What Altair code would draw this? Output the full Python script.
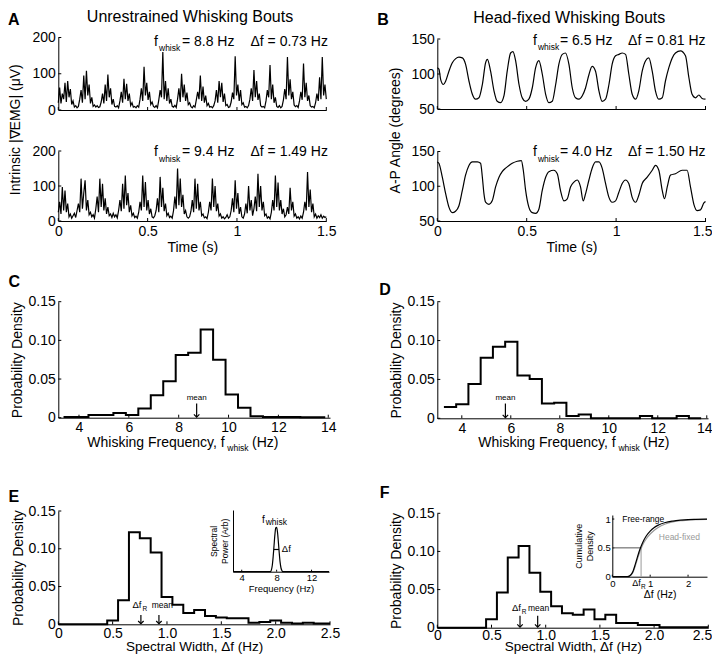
import altair as alt
import pandas as pd

FONT = "Liberation Sans"
W, H = 704, 646
OX, OY = 8, 8

# ---------------- data ----------------
DT_EMG = 0.0075  # sampling step of the EMG traces (s)
emg_top = [20,62,18,45,30,75,22,80,35,58,
           15,25,8,12,6,10,30,55,20,95,
           30,108,40,70,18,35,10,14,8,12,
           7,9,22,45,18,70,25,98,35,60,
           15,30,10,8,12,6,25,50,20,86,
           30,72,25,45,12,20,8,10,6,12,
           8,30,60,25,119,40,75,28,50,15,
           22,10,7,12,6,28,55,35,160,30,
           80,25,60,18,30,10,8,13,7,30,
           60,22,100,35,70,25,48,15,20,9,
           6,12,8,28,50,30,95,25,65,20,
           40,12,18,8,10,6,12,25,55,20,
           80,35,75,22,45,12,15,7,9,22,
           48,30,148,40,70,25,55,15,20,8,
           10,6,12,30,60,25,110,35,80,28,
           45,12,8,10,6,25,55,35,124,30,
           70,20,35,10,7,12,6,10,28,58,
           30,146,40,85,30,50,14,9,12,7,
           25,50,28,128,35,75,25,40,12,8,
           10,6,20,45,25,90,30,146,40,70,
           30]
emg_bottom = [25,55,20,97,30,87,25,50,12,20,
              8,15,22,10,30,50,25,121,35,80,
              116,30,60,18,25,12,18,8,35,70,
              25,121,40,106,30,65,20,40,15,20,
              10,22,12,18,9,30,60,28,106,35,
              130,45,80,25,45,15,22,10,14,8,
              25,55,30,130,40,111,30,60,20,35,
              12,9,15,30,65,25,126,40,95,28,
              50,15,22,10,14,8,30,70,35,150,
              45,121,40,75,20,30,12,8,12,28,
              60,25,121,35,106,30,55,15,20,9,
              12,7,25,55,30,121,40,100,28,50,
              14,20,8,12,6,10,18,8,12,30,
              65,25,116,35,80,20,40,12,8,20,
              50,22,100,30,60,15,35,70,28,135,
              40,100,30,55,15,20,8,12,6,25,
              60,30,130,40,110,30,60,20,35,12,
              18,40,20,95,30,55,14,20,8,12,
              6,14,8,25,55,30,140,40,90,25,
              50,12,20,8,15,10,18,8,14,10,
              12]

angle_top_t = [0,.009,.019,.034,.047,.065,.084,.103,.121,.140,
               .158,.177,.196,.214,.233,.252,.270,.280,.298,.317,
               .335,.354,.373,.391,.410,.423,.438,.457,.475,.494,
               .512,.531,.550,.568,.587,.606,.624,.643,.662,.680,
               .699,.717,.736,.755,.773,.792,.811,.829,.848,.866,
               .885,.904,.922,.941,.960,.978,.997,1.016,1.034,1.053,
               1.071,1.090,1.109,1.127,1.146,1.165,1.183,1.202,1.220,1.239,
               1.258,1.276,1.295,1.314,1.332,1.360,1.388,1.407,1.425,1.444,
               1.463,1.481,1.5]
angle_top = [109,107,92,85,90,104,116,122,124,123,
             114,90,71,64,66,85,116,121,104,76,
             61,59,69,104,130,132,119,85,66,61,
             64,80,109,119,100,71,59,61,85,114,
             128,130,114,80,66,64,69,80,99,111,
             104,76,61,64,85,114,126,128,130,128,
             100,71,64,76,104,119,123,104,76,64,
             66,90,109,123,130,133,126,95,71,66,
             70,65,64]
angle_bot_t = [0,.009,.028,.047,.065,.084,.102,.121,.140,.158,
               .177,.196,.224,.242,.252,.261,.270,.289,.307,.326,
               .345,.363,.382,.401,.419,.447,.470,.481,.494,.512,
               .531,.550,.568,.587,.606,.624,.652,.671,.689,.708,
               .727,.745,.764,.783,.801,.816,.829,.848,.866,.885,
               .904,.922,.941,.960,.978,.997,1.015,1.034,1.053,1.071,
               1.090,1.109,1.127,1.146,1.174,1.202,1.220,1.239,1.258,1.271,
               1.286,1.304,1.332,1.369,1.397,1.416,1.435,1.453,1.472,1.491,
               1.5]
angle_bot = [135,133,113,89,70,62,64,72,94,116,
             130,135,135,133,113,89,77,74,79,99,
             113,121,126,130,133,136,137,123,94,70,
             62,61,67,94,113,121,123,118,94,79,
             82,99,106,109,99,79,89,109,126,135,
             135,126,104,84,77,79,91,104,109,104,
             84,77,87,104,113,123,130,123,94,82,
             99,116,118,123,123,99,74,65,66,76,
             78]

C_edges = [3.38,3.88,4.38,4.88,5.38,5.88,6.38,6.88,7.38,7.88,8.38,8.88,9.38,9.88,
           10.38,10.88,11.38,11.88,12.38,12.88,13.38,13.88]
C_density = [0.001,0.001,0.0035,0.0035,0.006,0.0035,0.012,0.029,0.047,0.081,0.084,
             0.114,0.075,0.030,0.013,0.002,0.001,0.001,0.001,0.0005,0.0005]
D_edges = [3.27,3.77,4.27,4.77,5.27,5.77,6.27,6.77,7.27,7.77,8.27,8.77,9.27,9.77,
           10.27,10.77,11.27,11.77,12.27,12.77,13.27,13.77]
D_density = [0.0146,0.018,0.044,0.078,0.092,0.0986,0.055,0.0506,0.019,0.020,0.003,
             0.005,0.0,0.0,0.0,0.0,0.003,0.0,0.0,0.003,0.0]
E_edges = [0.0,0.45,0.55,0.65,0.75,0.85,0.95,1.05,1.15,1.25,1.35,1.45,1.55,1.65,
           1.75,1.85,1.95,2.05,2.15,2.25,2.35,2.45,2.5]
E_density = [0.0,0.005,0.032,0.122,0.114,0.095,0.036,0.026,0.015,0.019,0.011,0.009,
             0.008,0.008,0.002,0.003,0.005,0.002,0.001,0.002,0.001,0.001]
F_edges = [0.0,0.45,0.55,0.65,0.75,0.85,0.95,1.05,1.15,1.25,1.35,1.45,1.55,1.65,
           1.75,1.85,1.95,2.05,2.5]
F_density = [0.0,0.011,0.046,0.092,0.107,0.072,0.047,0.028,0.019,0.017,0.024,0.011,
             0.017,0.006,0.006,0.0035,0.0035,0.0005]

C_mean, D_mean = 8.72, 5.78
E_dfR, E_mean = 0.76, 0.926
F_dfR, F_mean = 0.763, 0.926

inset_freq = [3,7.3,7.4,7.5,7.6,7.7,7.8,7.9,8.0,8.1,8.2,8.3,8.4,8.5,8.6,8.7,14]
inset_power = [0,0,0.03,0.10,0.24,0.42,0.60,0.71,0.72,0.64,0.48,0.30,0.15,0.06,0.02,0,0]
inset_halfwidth = [7.67, 8.27]
inset_half = 0.36

cdf_x = [0,0.40,0.45,0.50,0.55,0.60,0.65,0.70,0.75,0.80,0.90,1.00,1.10,1.20,1.40,1.60,1.80,2.00,2.20,2.50]
cdf_free = [0,0,0.01,0.04,0.10,0.20,0.31,0.42,0.51,0.59,0.71,0.79,0.85,0.89,0.94,0.965,0.98,0.99,0.995,1.0]
cdf_head = [0,0,0.005,0.03,0.08,0.17,0.28,0.38,0.47,0.55,0.66,0.74,0.80,0.85,0.915,0.95,0.97,0.98,0.99,0.995]

# ---------------- layout (page pixels) ----------------
PANELS = {
    "A1": dict(xd=[0, 1.5], xr=[58.3, 326.3], yd=[0, 200], yr=[110, 37.5]),
    "A2": dict(xd=[0, 1.5], xr=[58.3, 326.3], yd=[0, 200], yr=[221, 151]),
    "B1": dict(xd=[0, 1.5], xr=[437.3, 705.5], yd=[50, 150], yr=[109, 39]),
    "B2": dict(xd=[0, 1.5], xr=[437.3, 705.5], yd=[50, 150], yr=[221, 151.5]),
    "C": dict(xd=[3.17, 14.07], xr=[58.3, 330], yd=[0, 0.15], yr=[417.7, 301.7]),
    "D": dict(xd=[3.0, 14.05], xr=[437.3, 708], yd=[0, 0.15], yr=[418.3, 301.7]),
    "E": dict(xd=[0, 2.5], xr=[58.3, 330], yd=[0, 0.15], yr=[624.3, 511]),
    "F": dict(xd=[0, 2.5], xr=[437.3, 708.3], yd=[0, 0.15], yr=[627.7, 513.3]),
    "Ei": dict(xd=[3, 14], xr=[233, 329], yd=[0, 1], yr=[571.7, 510]),
    "Fi": dict(xd=[0, 2.5], xr=[612.3, 707], yd=[0, 1.07], yr=[576.7, 515]),
}


def sx(p):
    P = PANELS[p]
    return alt.Scale(domain=P["xd"], range=[P["xr"][0] - OX, P["xr"][1] - OX], nice=False, zero=False)


def sy(p):
    P = PANELS[p]
    return alt.Scale(domain=P["yd"], range=[P["yr"][0] - OY, P["yr"][1] - OY], nice=False, zero=False)


BASE_AX = dict(grid=False, ticks=False, domainColor="black", domainWidth=1, labelColor="black",
               titleColor="black", labelFont=FONT, titleFont=FONT, titleFontWeight="normal",
               labelFlush=False, labelOverlap=False)


def xaxis(p, size=14, **kw):
    P = PANELS[p]
    d = dict(BASE_AX)
    d.update(orient="bottom", offset=P["yr"][0] - OY - H, labelFontSize=size, titleFontSize=size,
             labelPadding=3, title=None)
    d.update(kw)
    return alt.Axis(**d)


def yaxis(p, size=14, **kw):
    P = PANELS[p]
    d = dict(BASE_AX)
    d.update(orient="left", offset=-(P["xr"][0] - OX), labelFontSize=size, titleFontSize=size,
             labelPadding=3, title=None)
    d.update(kw)
    return alt.Axis(**d)


def enc(p, xa=None, ya=None, xf="x", yf="y"):
    return dict(x=alt.X(f"{xf}:Q", scale=sx(p), axis=xa), y=alt.Y(f"{yf}:Q", scale=sy(p), axis=ya))


def line(p, xs, ys, xa=None, ya=None, color="black", width=1.0, interp="linear"):
    df = pd.DataFrame({"x": xs, "y": ys})
    return alt.Chart(df).mark_line(color=color, strokeWidth=width, interpolate=interp).encode(**enc(p, xa, ya))


def steps(p, edges, dens, xa=None, ya=None):
    return line(p, list(edges), list(dens) + [dens[-1]], xa, ya, width=2.0, interp="step-after")


def text(p, x, y, s, size=14, align="center", color="black", weight="normal", baseline="middle"):
    df = pd.DataFrame({"x": [x], "y": [y], "t": [s]})
    return alt.Chart(df).mark_text(align=align, baseline=baseline, fontSize=size, color=color,
                                   fontWeight=weight, font=FONT).encode(text="t:N", **enc(p))


def rule(p, x, y, x2, y2, color="black", width=1.0):
    df = pd.DataFrame({"x": [x], "y": [y], "x2": [x2], "y2": [y2]})
    return alt.Chart(df).mark_rule(color=color, strokeWidth=width).encode(x2="x2:Q", y2="y2:Q", **enc(p))


def arrow(p, x, ytop, ytip):
    df = pd.DataFrame({"x": [x], "y": [ytip]})
    head = alt.Chart(df).mark_point(shape="M-1,-1L0,0L1,-1", filled=False, size=30, color="black",
                                    strokeWidth=1.2, opacity=1).encode(**enc(p))
    return [rule(p, x, ytop, x, ytip, width=1.2), head]


def inward_ticks(p, xvals, yvals, length=3):
    P = PANELS[p]
    dy = length * (P["yd"][1] - P["yd"][0]) / (P["yr"][0] - P["yr"][1])
    dx = length * (P["xd"][1] - P["xd"][0]) / (P["xr"][1] - P["xr"][0])
    rows = [dict(x=v, x2=v, y=P["yd"][0], y2=P["yd"][0] + dy) for v in xvals]
    rows += [dict(x=P["xd"][0], x2=P["xd"][0] + dx, y=v, y2=v) for v in yvals]
    df = pd.DataFrame(rows)
    return alt.Chart(df).mark_rule(color="black", strokeWidth=1).encode(x2="x2:Q", y2="y2:Q", **enc(p))


def cond(value, yes, no):
    return {"condition": {"test": f"datum.value == {value}", "value": yes}, "value": no}


DENS_EXPR = "datum.value == 0 ? '0' : format(datum.value, '.2f')"
WIDTH_EXPR = "datum.value == 0 ? '0' : format(datum.value, '.1f')"
TIME_EXPR = "toString(datum.value)"

t_emg = [i * DT_EMG for i in range(len(emg_top))]
time_ticks = [0, 0.5, 1, 1.5]
freq_ticks = [4, 6, 8, 10, 12, 14]
dens_ticks = [0, 0.05, 0.10, 0.15]
width_ticks = [0, 0.5, 1.0, 1.5, 2.0, 2.5]

layers = []

# ---- Panel A ----
layers.append(inward_ticks("A1", time_ticks, [0, 100, 200]))
layers.append(line("A1", t_emg, emg_top,
                   xaxis("A1", labels=False),
                   yaxis("A1", values=[0, 100, 200], title="Intrinsic |∇EMG| (μV)",
                         titleY=121.25, titlePadding=9),
                   width=1.2))
layers.append(inward_ticks("A2", time_ticks, [0, 100, 200]))
layers.append(line("A2", t_emg, emg_bottom,
                   xaxis("A2", values=time_ticks, labelExpr=TIME_EXPR, title="Time (s)", titlePadding=2),
                   yaxis("A2", values=[0, 100, 200]),
                   width=1.2))
layers += [
    text("A1", 0.737, 255.2, "Unrestrained Whisking Bouts", 16),
    text("A1", -0.2815, 248.3, "A", 16, align="left", weight="bold"),
    text("A1", 0.547, 188.4, "f"),
    text("A1", 0.5636, 169.7, "whisk", 8.5, align="left"),
    text("A1", 0.692, 188.4, "= 8.8 Hz", align="left"),
    text("A1", 1.509, 188.4, "Δf = 0.73 Hz", align="right"),
    text("A2", 0.547, 196.3, "f"),
    text("A2", 0.5636, 177, "whisk", 8.5, align="left"),
    text("A2", 0.692, 196.3, "= 9.4 Hz", align="left"),
    text("A2", 1.509, 196.3, "Δf = 1.49 Hz", align="right"),
]

# ---- Panel B ----
layers.append(inward_ticks("B1", time_ticks, [50, 100, 150]))
layers.append(line("B1", angle_top_t, angle_top,
                   xaxis("B1", labels=False),
                   yaxis("B1", values=[50, 100, 150], title="A-P Angle (degrees)",
                         titleY=122, titlePadding=8),
                   width=1.2, interp="monotone"))
layers.append(inward_ticks("B2", time_ticks, [50, 100, 150]))
layers.append(line("B2", angle_bot_t, angle_bot,
                   xaxis("B2", values=time_ticks, labelExpr=TIME_EXPR, title="Time (s)", titlePadding=2,
                         labelAlign=cond(1.5, "right", "center"), labelOffset=cond(1.5, 6.5, 0)),
                   yaxis("B2", values=[50, 100, 150]),
                   width=1.2, interp="monotone"))
layers += [
    text("B1", 0.738, 180.7, "Head-fixed Whisking Bouts", 16),
    text("B1", -0.3037, 177.1, "B", 16, weight="bold"),
    text("B1", 0.546, 147.1, "f"),
    text("B1", 0.563, 137.9, "whisk", 8.5, align="left"),
    text("B1", 0.686, 147.1, "= 6.5 Hz", align="left"),
    text("B1", 1.5, 147.1, "Δf = 0.81 Hz", align="right"),
    text("B2", 0.546, 148.8, "f"),
    text("B2", 0.563, 139.2, "whisk", 8.5, align="left"),
    text("B2", 0.686, 148.8, "= 4.0 Hz", align="left"),
    text("B2", 1.5, 148.8, "Δf = 1.50 Hz", align="right"),
]

# ---- Panel C ----
layers.append(inward_ticks("C", freq_ticks, dens_ticks))
layers.append(steps("C", C_edges, C_density,
                    xaxis("C", values=freq_ticks),
                    yaxis("C", values=dens_ticks, labelExpr=DENS_EXPR, title="Probability Density",
                          titlePadding=4)))
layers += arrow("C", C_mean, 0.0185, 0.0008)
layers += [
    text("C", 1.172, 0.1759, "C", 16, align="left", weight="bold"),
    text("C", C_mean, 0.0259, "mean", 8),
    text("C", 4.333, -0.0327, "Whisking Frequency, f", align="left"),
    text("C", 9.95, -0.0392, "whisk", 8.5, align="left"),
    text("C", 10.94, -0.0327, "(Hz)", align="left"),
]

# ---- Panel D ----
layers.append(inward_ticks("D", freq_ticks, dens_ticks))
layers.append(steps("D", D_edges, D_density,
                    xaxis("D", values=freq_ticks, labelAlign=cond(14, "right", "center"),
                          labelOffset=cond(14, 5.3, 0)),
                    yaxis("D", values=dens_ticks, labelExpr=DENS_EXPR, title="Probability Density",
                          titlePadding=4)))
layers += arrow("D", D_mean, 0.019, 0.0008)
layers += [
    text("D", 0.865, 0.165, "D", 16, weight="bold"),
    text("D", D_mean, 0.0265, "mean", 8),
    text("D", 4.673, -0.0318, "Whisking Frequency, f", align="left"),
    text("D", 10.396, -0.0383, "whisk", 8.5, align="left"),
    text("D", 11.396, -0.0318, "(Hz)", align="left"),
]

# ---- Panel E ----
layers.append(inward_ticks("E", width_ticks, dens_ticks))
layers.append(steps("E", E_edges, E_density,
                    xaxis("E", values=width_ticks, labelExpr=WIDTH_EXPR, title="Spectral Width, Δf (Hz)",
                          titleY=26.2, titleBaseline="alphabetic", titleFontSize=13.5, labelPadding=2),
                    yaxis("E", values=dens_ticks, labelExpr=DENS_EXPR, title="Probability Density",
                          titlePadding=3)))
layers += arrow("E", E_dfR, 0.0123, 0.0008)
layers += arrow("E", E_mean, 0.0123, 0.0008)
layers += [
    text("E", -0.458, 0.169, "E", 16, align="left", weight="bold"),
    text("E", 0.724, 0.0256, "Δf", 9.5),
    text("E", 0.7746, 0.0209, "R", 6.5, align="left"),
    text("E", 0.957, 0.0256, "mean", 8.5),
]
# inset E
layers.append(inward_ticks("Ei", [4, 8, 12], [], length=2))
layers.append(line("Ei", inset_freq, inset_power,
                   xaxis("Ei", size=9.5, values=[4, 8, 12], title="Frequency (Hz)", titlePadding=1,
                         labelPadding=1),
                   yaxis("Ei", labels=False, title=["Spectral", "Power (Arb)"], titleFontSize=8.5,
                         titlePadding=4),
                   width=1.2, interp="monotone"))
layers.append(rule("Ei", inset_halfwidth[0], inset_half, inset_halfwidth[1], inset_half, width=1.2))
layers += [
    text("Ei", 6.47, 0.838, "f", 10),
    text("Ei", 6.75, 0.805, "whisk", 8.5, align="left"),
    text("Ei", 8.6, 0.363, "Δf", 9.5, align="left"),
]

# ---- Panel F ----
layers.append(inward_ticks("F", width_ticks, dens_ticks))
layers.append(steps("F", F_edges, F_density,
                    xaxis("F", values=width_ticks, labelExpr=WIDTH_EXPR, title="Spectral Width, Δf (Hz)",
                          titleY=23.0, titleBaseline="alphabetic", titleFontSize=13.5, labelPadding=1,
                          labelAlign=cond(2.5, "right", "center"), labelOffset=cond(2.5, 3.5, 0)),
                    yaxis("F", values=dens_ticks, labelExpr=DENS_EXPR, title="Probability Density",
                          titlePadding=4)))
layers += arrow("F", F_dfR, 0.0157, 0.0008)
layers += arrow("F", F_mean, 0.0157, 0.0008)
layers += [
    text("F", -0.485, 0.1762, "F", 16, weight="bold"),
    text("F", 0.73, 0.0254, "Δf", 9.5),
    text("F", 0.78, 0.0212, "R", 6.5, align="left"),
    text("F", 0.935, 0.0254, "mean", 8.5),
]
# inset F
layers.append(inward_ticks("Fi", [0, 1, 2], [0, 0.5, 1], length=2))
layers.append(rule("Fi", 0, 0.5, 0.76, 0.5, color="#555555"))
layers.append(rule("Fi", 0.76, 0, 0.76, 0.5, color="#999999"))
layers.append(line("Fi", cdf_x, cdf_head,
                   xaxis("Fi", size=9.5, values=[0, 1, 2], title="Δf (Hz)", titleFontSize=10.5,
                         titlePadding=1, labelPadding=2),
                   yaxis("Fi", size=9.5, values=[0, 0.5, 1], labelExpr=TIME_EXPR,
                         title=["Cumulative", "Density"], titleFontSize=9, titlePadding=3, labelPadding=2),
                   color="#999999", width=1.2, interp="monotone"))
layers.append(line("Fi", cdf_x, cdf_free, color="black", width=1.2, interp="monotone"))
layers += [
    text("Fi", 0.818, 0.995, "Free-range", 8.5),
    text("Fi", 1.769, 0.694, "Head-fixed", 8.5, color="#999999"),
    text("Fi", 0.64, -0.114, "Δf", 9),
    text("Fi", 0.76, -0.175, "R", 6.5, align="left"),
]

chart = (
    alt.layer(*layers)
    .resolve_scale(x="independent", y="independent")
    .properties(width=W, height=H, autosize=alt.AutoSizeParams(type="none"), padding=0)
    .configure_view(stroke=None)
    .configure_text(font=FONT)
)

chart.save("out.html", embed_options={"renderer": "svg", "actions": False})
